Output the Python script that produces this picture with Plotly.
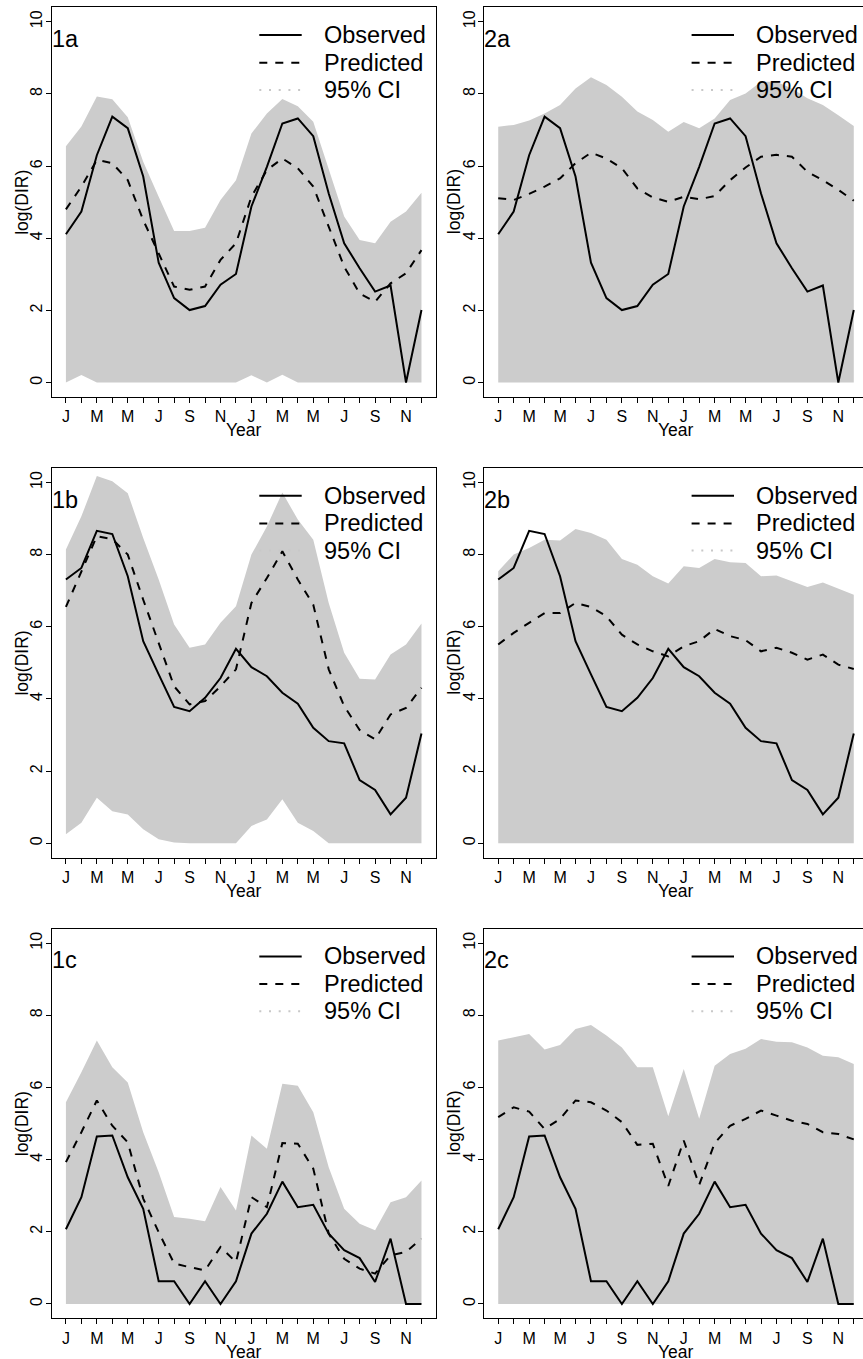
import plotly.graph_objects as go

# ---------------- data ----------------
months = list(range(24))
month_labels = ["J", "", "M", "", "M", "", "J", "", "S", "", "N", "",
                "J", "", "M", "", "M", "", "J", "", "S", "", "N", ""]
y_ticks = [0, 2, 4, 6, 8, 10]

obs_a = [4.11, 4.74, 6.30, 7.37, 7.05, 5.71, 3.32, 2.34, 2.01, 2.12, 2.71, 3.01,
         4.88, 5.98, 7.18, 7.32, 6.83, 5.24, 3.86, 3.17, 2.52, 2.69, 0.00, 2.01]
obs_b = [7.31, 7.63, 8.66, 8.57, 7.40, 5.60, 4.68, 3.78, 3.66, 4.03, 4.58, 5.39,
         4.88, 4.63, 4.17, 3.87, 3.20, 2.83, 2.77, 1.75, 1.48, 0.80, 1.26, 3.04]
obs_c = [2.07, 2.96, 4.64, 4.67, 3.51, 2.64, 0.63, 0.63, 0.00, 0.63, 0.00, 0.63,
         1.95, 2.50, 3.39, 2.68, 2.75, 1.95, 1.49, 1.27, 0.61, 1.81, 0.00, 0.00]

pred_1a = [4.80, 5.43, 6.17, 6.08, 5.61, 4.50, 3.58, 2.66, 2.57, 2.66, 3.40, 3.86,
           5.15, 5.89, 6.21, 5.94, 5.43, 4.32, 3.21, 2.47, 2.24, 2.75, 3.03, 3.67]
pred_2a = [5.11, 5.06, 5.23, 5.43, 5.66, 6.08, 6.37, 6.21, 5.94, 5.38, 5.13, 5.01,
           5.15, 5.08, 5.17, 5.61, 5.96, 6.26, 6.31, 6.26, 5.84, 5.61, 5.34, 5.04]
pred_1b = [6.55, 7.54, 8.51, 8.43, 8.00, 6.75, 5.55, 4.35, 3.85, 3.94, 4.35, 4.82,
           6.66, 7.35, 8.09, 7.31, 6.61, 4.82, 3.80, 3.14, 2.88, 3.57, 3.75, 4.31]
pred_2b = [5.51, 5.83, 6.11, 6.38, 6.38, 6.66, 6.55, 6.29, 5.78, 5.51, 5.32, 5.18,
           5.46, 5.60, 5.94, 5.74, 5.63, 5.32, 5.42, 5.28, 5.09, 5.23, 4.95, 4.83]
pred_1c = [3.93, 4.76, 5.64, 4.94, 4.48, 2.92, 1.99, 1.12, 1.02, 0.93, 1.58, 1.16,
           2.96, 2.68, 4.46, 4.44, 3.75, 1.95, 1.25, 0.98, 0.84, 1.35, 1.44, 1.81]
pred_2c = [5.18, 5.45, 5.33, 4.85, 5.13, 5.64, 5.59, 5.36, 5.04, 4.41, 4.44, 3.27,
           4.53, 3.30, 4.46, 4.94, 5.13, 5.36, 5.22, 5.08, 4.99, 4.76, 4.71, 4.56]

ci_up_1a = [6.55, 7.10, 7.93, 7.85, 7.35, 6.12, 5.15, 4.20, 4.20, 4.29, 5.06, 5.61,
            6.90, 7.46, 7.86, 7.66, 7.23, 5.90, 4.60, 3.95, 3.86, 4.46, 4.74, 5.26]
ci_lo_1a = [0.00, 0.21, 0.00, 0.00, 0.00, 0.00, 0.00, 0.00, 0.00, 0.00, 0.00, 0.00,
            0.20, 0.00, 0.22, 0.00, 0.00, 0.00, 0.00, 0.00, 0.00, 0.00, 0.00, 0.00]
ci_up_2a = [7.09, 7.14, 7.26, 7.46, 7.69, 8.15, 8.46, 8.25, 7.92, 7.51, 7.28, 6.95,
            7.22, 7.05, 7.32, 7.83, 8.01, 8.34, 8.34, 8.15, 7.88, 7.69, 7.41, 7.11]
ci_lo_2a = [0.00, 0.00, 0.00, 0.00, 0.00, 0.00, 0.00, 0.00, 0.00, 0.00, 0.00, 0.00,
            0.00, 0.00, 0.00, 0.00, 0.00, 0.00, 0.00, 0.00, 0.00, 0.00, 0.00, 0.00]
ci_up_1b = [8.14, 9.06, 10.18, 10.03, 9.70, 8.46, 7.31, 6.06, 5.42, 5.51, 6.11, 6.57,
            8.00, 8.78, 9.72, 8.97, 8.41, 6.66, 5.28, 4.56, 4.54, 5.23, 5.51, 6.09]
ci_lo_1b = [0.25, 0.57, 1.26, 0.89, 0.80, 0.39, 0.11, 0.02, 0.00, 0.00, 0.00, 0.00,
            0.48, 0.66, 1.22, 0.57, 0.34, 0.00, 0.00, 0.00, 0.00, 0.00, 0.00, 0.00]
ci_up_2b = [7.54, 8.00, 8.18, 8.41, 8.39, 8.71, 8.60, 8.41, 7.88, 7.72, 7.40, 7.20,
            7.68, 7.63, 7.88, 7.79, 7.77, 7.40, 7.42, 7.26, 7.10, 7.23, 7.05, 6.89]
ci_lo_2b = [0.00, 0.00, 0.00, 0.00, 0.00, 0.00, 0.00, 0.00, 0.00, 0.00, 0.00, 0.00,
            0.00, 0.00, 0.00, 0.00, 0.00, 0.00, 0.00, 0.00, 0.00, 0.00, 0.00, 0.00]
ci_up_1c = [5.59, 6.42, 7.30, 6.56, 6.14, 4.76, 3.65, 2.41, 2.36, 2.29, 3.24, 2.59,
            4.67, 4.30, 6.10, 6.05, 5.31, 3.79, 2.64, 2.22, 2.04, 2.82, 2.96, 3.42]
ci_lo_1c = [0.00, 0.00, 0.00, 0.00, 0.00, 0.00, 0.00, 0.00, 0.00, 0.00, 0.00, 0.00,
            0.00, 0.00, 0.00, 0.00, 0.00, 0.00, 0.00, 0.00, 0.00, 0.00, 0.00, 0.00]
ci_up_2c = [7.30, 7.39, 7.48, 7.05, 7.18, 7.62, 7.73, 7.44, 7.11, 6.56, 6.56, 5.20,
            6.51, 5.13, 6.60, 6.93, 7.07, 7.34, 7.27, 7.25, 7.11, 6.88, 6.84, 6.65]
ci_lo_2c = [0.00, 0.00, 0.00, 0.00, 0.00, 0.00, 0.00, 0.00, 0.00, 0.00, 0.00, 0.00,
            0.00, 0.00, 0.00, 0.00, 0.00, 0.00, 0.00, 0.00, 0.00, 0.00, 0.00, 0.00]

panel_labels = ["1a", "2a", "1b", "2b", "1c", "2c"]
legend_labels = ["Observed", "Predicted", "95% CI"]
x_title = "Year"
y_title = "log(DIR)"

panels = [
    ("1a", obs_a, pred_1a, ci_lo_1a, ci_up_1a),
    ("2a", obs_a, pred_2a, ci_lo_2a, ci_up_2a),
    ("1b", obs_b, pred_1b, ci_lo_1b, ci_up_1b),
    ("2b", obs_b, pred_2b, ci_lo_2b, ci_up_2b),
    ("1c", obs_c, pred_1c, ci_lo_1c, ci_up_1c),
    ("2c", obs_c, pred_2c, ci_lo_2c, ci_up_2c),
]

# ---------------- layout geometry (pixels) ----------------
W, H = 863, 1359
FONT = "Liberation Sans, Arial, Helvetica, sans-serif"
col_left = [51.7, 484.0]
frame_w = 384.0
row_top = [7.3, 468.0, 928.7]
frame_h = 389.7
x_range_full = [-0.92, 23.92]
y_range = [-0.4, 10.4]
px_per_unit = frame_w / (x_range_full[1] - x_range_full[0])

fig = go.Figure()
layout = dict(
    width=W, height=H, margin=dict(l=0, r=0, t=0, b=0),
    paper_bgcolor="white", plot_bgcolor="white", showlegend=False,
    font=dict(family=FONT, color="black"),
)
shapes = []
annotations = []


def px2x(px):
    return px / W


def px2y(py):
    return 1 - py / H


for k, (label, obs, pred, lo, up) in enumerate(panels):
    r, c = divmod(k, 2)
    n = k + 1
    xa = "x" if n == 1 else f"x{n}"
    ya = "y" if n == 1 else f"y{n}"
    left = col_left[c]
    right = left + frame_w
    if right > W:
        vis_right = W
        xr = [x_range_full[0], x_range_full[0] + (W - left) / px_per_unit]
    else:
        vis_right = right
        xr = list(x_range_full)
    top = row_top[r]
    bottom = top + frame_h

    xdom = [left / W, vis_right / W]
    ydom = [1 - bottom / H, 1 - top / H]

    layout[f"xaxis{'' if n == 1 else n}"] = dict(
        domain=xdom, range=xr, anchor=ya,
        tickmode="array", tickvals=months, ticktext=month_labels,
        ticks="outside", ticklen=5, tickwidth=1, tickcolor="black",
        showline=True, linecolor="black", linewidth=1, mirror=True,
        showgrid=False, zeroline=False,
        tickfont=dict(family=FONT, size=16, color="black"),
        fixedrange=True,
    )
    layout[f"yaxis{'' if n == 1 else n}"] = dict(
        domain=ydom, range=y_range, anchor=xa,
        tickmode="array", tickvals=y_ticks,
        ticks="outside", ticklen=5, tickwidth=1, tickcolor="black",
        tickangle=-90, ticklabelstandoff=-3,
        showline=True, linecolor="black", linewidth=1, mirror=(c == 0),
        showgrid=False, zeroline=False,
        tickfont=dict(family=FONT, size=16, color="black"),
        fixedrange=True,
    )

    # CI band
    fig.add_trace(go.Scatter(x=months, y=lo, mode="lines", line=dict(width=0, color="#cccccc"),
                             xaxis=xa, yaxis=ya, hoverinfo="skip"))
    fig.add_trace(go.Scatter(x=months, y=up, mode="lines", line=dict(width=0, color="#cccccc"),
                             fill="tonexty", fillcolor="#cccccc",
                             xaxis=xa, yaxis=ya, hoverinfo="skip"))
    # predicted (dashed)
    fig.add_trace(go.Scatter(x=months, y=pred, mode="lines",
                             line=dict(color="black", width=2, dash="8px,8px"),
                             xaxis=xa, yaxis=ya))
    # observed (solid)
    fig.add_trace(go.Scatter(x=months, y=obs, mode="lines",
                             line=dict(color="black", width=2),
                             xaxis=xa, yaxis=ya))

    # legend (drawn per panel, positioned relative to the frame)
    leg_x0 = left + 207.6
    leg_x1 = left + 250.0
    leg_tx = left + 270.0
    leg_rows = [top + 27.7, top + 55.4, top + 82.6]
    styles = [dict(color="black", width=2),
              dict(color="black", width=2, dash="8px,8px"),
              dict(color="#c8c8c8", width=2, dash="2px,7.7px")]
    for txt, yy, st in zip(legend_labels, leg_rows, styles):
        shapes.append(dict(type="line", xref="paper", yref="paper",
                           x0=px2x(leg_x0), x1=px2x(leg_x1), y0=px2y(yy), y1=px2y(yy),
                           line=st, layer="above"))
        annotations.append(dict(text=txt, xref="paper", yref="paper",
                                x=px2x(leg_tx), y=px2y(yy), xanchor="left", yanchor="middle",
                                showarrow=False, font=dict(family=FONT, size=23.5, color="black")))
    # panel label
    annotations.append(dict(text=label, xref="paper", yref="paper",
                            x=px2x(left - 1.5), y=px2y(top + 31.5), xanchor="left", yanchor="middle",
                            showarrow=False, font=dict(family=FONT, size=23.5, color="black")))
    # axis titles
    annotations.append(dict(text=x_title, xref="paper", yref="paper",
                            x=px2x(left + frame_w / 2), y=px2y(bottom + 33.3),
                            xanchor="center", yanchor="middle", showarrow=False,
                            font=dict(family=FONT, size=17.5, color="black")))
    annotations.append(dict(text=y_title, xref="paper", yref="paper",
                            x=px2x(left - 30.0), y=px2y(top + frame_h / 2),
                            xanchor="center", yanchor="middle", textangle=-90, showarrow=False,
                            font=dict(family=FONT, size=17.5, color="black")))

layout["shapes"] = shapes
layout["annotations"] = annotations
fig.update_layout(**layout)
fig.write_html("out.html")
